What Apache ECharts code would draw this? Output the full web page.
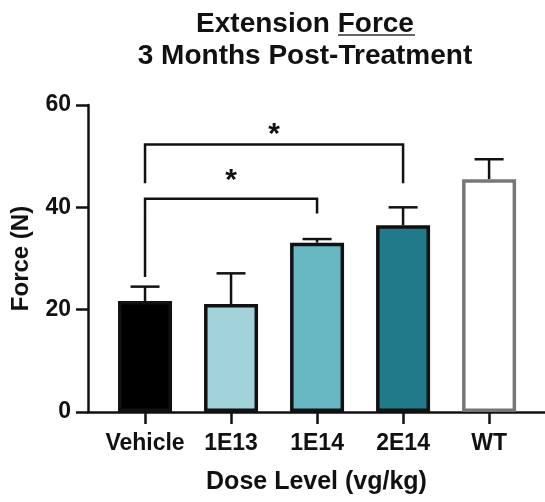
<!DOCTYPE html>
<html lang="en">
<head>
    <meta charset="UTF-8" />
    <title>Extension Force</title>
    <script src="https://cdn.jsdelivr.net/npm/echarts@6/dist/echarts.min.js"></script>
    <style>
        html, body { margin: 0; padding: 0; background: #fff; }
    </style>
</head>
<body>
<div id="main" style="width: 545px;height:502px;"></div>
<script type="text/javascript">
    // data
    var categories = ['Vehicle', '1E13', '1E14', '2E14', 'WT'];
    var means = [21.7, 21.1, 33.1, 36.5, 45.5];
    var errTops = [24.5, 27.1, 33.8, 40.0, 49.4];
    var yTicks = [0, 20, 40, 60];
    // [from index, to index, bracket height, left leg end, right leg end, star height]
    var brackets = [
        [0, 3, 52.3, 44.7, 44.7, 54.2],
        [0, 2, 41.7, 26.4, 38.8, 45.2]
    ];

    var barColors = ['#000000', '#a3d3da', '#68b8c4', '#217a8a', '#ffffff'];
    var barBorders = ['#111', '#111', '#111', '#111', '#777'];
    var ink = '#111';
    var font = '"Liberation Sans", Arial, sans-serif';

    var myChart = echarts.init(document.getElementById('main'));

    var barData = [];
    var errData = [];
    for (var i = 0; i < categories.length; i++) {
        barData.push({
            value: [i, means[i]],
            itemStyle: { color: barColors[i], borderColor: barBorders[i], borderWidth: 3.5 }
        });
        errData.push([i, means[i], errTops[i]]);
    }

    var option = {
        animation: false,
        graphic: [
            {
                type: 'text', x: 305, y: 10,
                style: { text: 'Extension Force', align: 'center', font: 'bold 28px ' + font, fill: ink }
            },
            {
                type: 'line', shape: { x1: 338, y1: 35, x2: 415, y2: 35 },
                style: { stroke: '#333', lineWidth: 1.5 }
            },
            {
                type: 'text', x: 305, y: 42,
                style: { text: '3 Months Post-Treatment', align: 'center', font: 'bold 28px ' + font, fill: ink }
            }
        ],
        grid: { left: 88, right: 0, top: 105, bottom: 90 },
        xAxis: {
            type: 'value',
            min: -0.663,
            max: 4.65,
            name: 'Dose Level (vg/kg)',
            nameLocation: 'middle',
            nameGap: 58,
            nameTextStyle: { fontFamily: font, fontWeight: 'bold', fontSize: 25, color: ink },
            splitLine: { show: false },
            axisLine: { onZero: false, lineStyle: { color: ink, width: 2.5 } },
            axisTick: { customValues: [0, 1, 2, 3, 4], length: 12, lineStyle: { color: ink, width: 2.5 } },
            axisLabel: {
                customValues: [0, 1, 2, 3, 4],
                margin: 20,
                fontFamily: font, fontWeight: 'bold', fontSize: 23, color: ink,
                formatter: function (v) { return categories[Math.round(v)]; }
            }
        },
        yAxis: {
            type: 'value',
            min: 0,
            max: 60,
            interval: 20,
            name: 'Force (N)',
            nameLocation: 'middle',
            nameGap: 55,
            nameTextStyle: { fontFamily: font, fontWeight: 'bold', fontSize: 24, color: ink },
            splitLine: { show: false },
            axisLine: { show: true, onZero: false, lineStyle: { color: ink, width: 2.5 } },
            axisTick: { show: true, length: 12, lineStyle: { color: ink, width: 2.5 } },
            axisLabel: {
                margin: 17,
                fontFamily: font, fontWeight: 'bold', fontSize: 23, color: ink,
                formatter: function (v) { return yTicks.indexOf(v) >= 0 ? String(v) : ''; }
            }
        },
        series: [
            {
                type: 'custom',
                z: 1,
                data: errData,
                renderItem: function (params, api) {
                    var base = api.coord([api.value(0), api.value(1)]);
                    var top = api.coord([api.value(0), api.value(2)]);
                    var capHalf = 14.5;
                    var st = { stroke: ink, lineWidth: 2.5 };
                    return {
                        type: 'group',
                        children: [
                            { type: 'line', shape: { x1: base[0], y1: base[1], x2: top[0], y2: top[1] }, style: st },
                            { type: 'line', shape: { x1: top[0] - capHalf, y1: top[1], x2: top[0] + capHalf, y2: top[1] }, style: st }
                        ]
                    };
                }
            },
            {
                type: 'bar',
                z: 2,
                barWidth: 54,
                data: barData
            },
            {
                type: 'custom',
                z: 3,
                data: brackets,
                renderItem: function (params, api) {
                    var x1 = api.value(0), x2 = api.value(1), h = api.value(2);
                    var pL = api.coord([x1, h]);
                    var pR = api.coord([x2, h]);
                    var lEnd = api.coord([x1, api.value(3)]);
                    var rEnd = api.coord([x2, api.value(4)]);
                    var star = api.coord([(x1 + x2) / 2, api.value(5)]);
                    var st = { stroke: ink, lineWidth: 2.5, fill: null };
                    return {
                        type: 'group',
                        children: [
                            { type: 'polyline', shape: { points: [[lEnd[0], lEnd[1]], [pL[0], pL[1]], [pR[0], pR[1]], [rEnd[0], rEnd[1]]] }, style: st },
                            { type: 'text', x: star[0], y: star[1], style: { text: '*', align: 'center', verticalAlign: 'middle', font: 'bold 30px ' + font, fill: ink } }
                        ]
                    };
                }
            }
        ]
    };
    myChart.setOption(option);
</script>
</body>
</html>
